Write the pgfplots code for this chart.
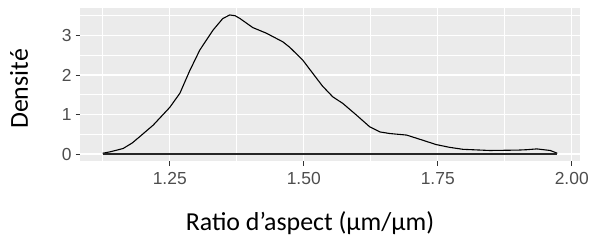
\documentclass[border=0pt]{standalone}
\usepackage{pgfplots}
\pgfplotsset{compat=1.18}
\usepackage{fontspec}
\setmainfont{Liberation Sans}
\newfontfamily\carlito{Carlito}
\definecolor{panelbg}{HTML}{EBEBEB}
\definecolor{ticktxt}{HTML}{4D4D4D}
\definecolor{tickcol}{HTML}{333333}
\begin{document}
\begin{tikzpicture}[x=1bp,y=1bp]
\useasboundingbox (0,0) rectangle (592,242);
\begin{axis}[at={(80bp,81bp)}, anchor=south west, scale only axis,
  width=500bp, height=153bp,
  xmin=1.0826, xmax=2.0154, ymin=-0.176, ymax=3.696,
  axis background/.style={fill=panelbg},
  axis line style={draw=none},
  xtick={1.25,1.5,1.75,2.0},
  xticklabels={1.25,1.50,1.75,2.00},
  ytick={0,1,2,3},
  minor xtick={1.125,1.375,1.625,1.875},
  minor ytick={0.5,1.5,2.5,3.5},
  grid=both,
  major grid style={white, line width=1.3bp},
  minor grid style={white, line width=0.6bp},
  tick align=outside,
  major tick length=4.5bp,
  minor tick length=0bp,
  tick style={tickcol, line width=1bp},
  xtick pos=bottom, ytick pos=left,
  /pgf/number format/assume math mode=true,
  ticklabel style={font=\fontsize{17.5}{19}\selectfont, text=ticktxt},
  xticklabel style={yshift=-3.5bp},
  yticklabel style={xshift=-0.5bp},
  clip=false,
]
\addplot[black, line width=1.1bp] coordinates {
(1.125,0.02) (1.14,0.06) (1.163,0.14) (1.18,0.28) (1.194,0.44) (1.219,0.73)
(1.25,1.18) (1.269,1.54) (1.287,2.10) (1.306,2.63) (1.331,3.14) (1.349,3.43)
(1.362,3.52) (1.372,3.50) (1.381,3.43) (1.405,3.20) (1.430,3.06) (1.461,2.84)
(1.474,2.70) (1.498,2.38) (1.517,2.04) (1.535,1.72) (1.554,1.45) (1.573,1.28)
(1.598,0.99) (1.623,0.69) (1.642,0.56) (1.660,0.52) (1.692,0.48) (1.722,0.35)
(1.747,0.24) (1.772,0.17) (1.797,0.12) (1.847,0.09) (1.90,0.10) (1.916,0.11)
(1.935,0.13) (1.96,0.09) (1.973,0.02)
};
\addplot[black!85, line width=1.6bp] coordinates {(1.125,0) (1.973,0)};
\end{axis}
\node[anchor=base, inner sep=0pt, font=\carlito\fontsize{26}{30}\selectfont] at (310,12) {Ratio d’aspect (µm/µm)};
\node[rotate=90, inner sep=0pt, font=\carlito\fontsize{26}{30}\selectfont] at (19,153) {Densité};
\end{tikzpicture}
\end{document}
